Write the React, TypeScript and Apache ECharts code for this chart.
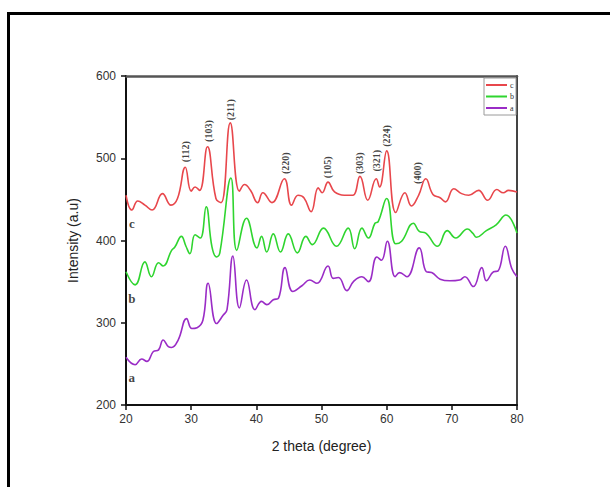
import React, { useEffect, useRef } from "react";
import * as echarts from "echarts";

// Curve c (red)
const cX = [20, 20.9, 21.8, 22.9, 24.0, 25.6, 26.9, 27.9, 29.1, 30.0, 30.6, 31.3, 32.5, 33.8, 34.6, 36.0, 37.4, 38.2, 39.1, 40.2, 41.0, 42.4, 44.3, 45.4, 46.4, 47.3, 48.4, 49.5, 50.1, 51.0, 52.0, 53.5, 54.8, 55.9, 57.1, 58.4, 58.9, 60.0, 61.4, 62.8, 63.8, 64.9, 66.0, 67.1, 68.2, 69.0, 70.3, 71.5, 72.6, 74.1, 75.5, 76.9, 77.9, 78.7, 80];
const cY = [455, 437, 448, 443, 437, 457, 443, 451, 489, 460, 465, 461, 514, 451, 446, 543, 460, 468, 461, 446, 458, 446, 475, 443, 455, 452, 435, 464, 458, 471, 459, 455, 455, 478, 449, 475, 465, 509, 434, 458, 442, 455, 475, 456, 452, 447, 463, 457, 455, 461, 449, 462, 458, 461, 459];

// Curve b (green)
const bX = [20, 21.4, 22.9, 23.9, 25.0, 25.7, 27.0, 27.5, 28.5, 29.2, 29.8, 30.6, 31.4, 32.3, 33.2, 33.9, 34.4, 36.1, 37.0, 38.5, 40.1, 40.8, 41.6, 42.6, 43.7, 44.9, 46.3, 47.6, 48.6, 50.3, 52.3, 54.1, 55.1, 56.2, 57.2, 58.2, 58.7, 60.0, 61.4, 62.3, 64.1, 65.0, 66.0, 67.8, 69.3, 70.6, 72.4, 73.2, 73.8, 75.3, 76.8, 78.3, 80];
const bY = [362, 346, 374, 356, 373, 369, 388, 392, 405, 393, 384, 407, 403, 441, 392, 380, 385, 476, 388, 427, 391, 405, 386, 408, 386, 408, 385, 405, 395, 415, 393, 415, 390, 415, 403, 421, 423, 451, 396, 399, 421, 411, 409, 393, 412, 403, 414, 409, 404, 412, 419, 431, 409];

// Curve a (purple)
const aX = [20, 21.4, 22.4, 23.2, 24.2, 25.0, 25.7, 26.5, 27.0, 28.0, 29.3, 30.1, 30.9, 31.8, 32.6, 33.9, 34.9, 35.5, 36.4, 37.4, 38.5, 39.8, 40.8, 41.6, 42.6, 43.4, 44.4, 45.6, 47.0, 48.2, 49.3, 51.0, 51.8, 52.6, 53.9, 54.9, 56.2, 57.2, 58.5, 59.2, 60.1, 61.3, 62.0, 63.1, 65.0, 66.1, 66.9, 68.2, 69.7, 71.2, 72.0, 73.3, 74.6, 75.3, 76.4, 77.1, 78.2, 79.2, 80];
const aY = [258, 249, 256, 253, 265, 267, 279, 271, 270, 279, 305, 293, 294, 303, 348, 299, 309, 316, 381, 318, 352, 316, 326, 322, 328, 330, 367, 338, 345, 352, 348, 369, 354, 355, 339, 350, 356, 350, 380, 376, 399, 356, 361, 356, 391, 362, 361, 353, 351, 352, 356, 344, 367, 351, 362, 363, 393, 366, 356];

// Peak annotations (hkl) placed at data coordinates
const peakNames = ["(112)", "(103)", "(211)", "(220)", "(105)", "(303)", "(321)", "(224)", "(400)"];
const peakX = [29.2, 32.6, 36.1, 44.4, 50.9, 55.9, 58.4, 60.0, 64.8];
const peakY = [508, 533, 559, 494, 489, 494, 497, 527, 482];

// Curve letters
const curveNames = ["c", "b", "a"];
const curveLabelX = [20.9, 20.9, 20.9];
const curveLabelY = [421, 330, 234];

const xTicks = { min: 20, max: 80, interval: 10 };
const yTicks = { min: 200, max: 600, interval: 100 };

const pair = (xs: number[], ys: number[]) => xs.map((x, i) => [x, ys[i]]);

export default function App() {
  const ref = useRef<HTMLDivElement>(null);
  useEffect(() => {
    if (!ref.current) return;
    const chart = echarts.init(ref.current, null, { renderer: "svg" });
    const lineBase = {
      type: "line",
      smooth: 0.45,
      symbol: "none",
      showSymbol: false,
      xAxisIndex: 0,
      yAxisIndex: 0,
    };
    chart.setOption({
      animation: false,
      backgroundColor: "#ffffff",
      grid: { left: 126, right: 93, top: 76, bottom: 82 },
      legend: {
        data: ["c", "b", "a"],
        orient: "vertical",
        right: 94,
        top: 78,
        icon: "rect",
        itemWidth: 21,
        itemHeight: 2,
        itemGap: 1.5,
        padding: [2, 2, 2, 2],
        borderColor: "#9a9a9a",
        borderWidth: 1,
        backgroundColor: "#ffffff",
        textStyle: { fontFamily: "Liberation Serif", fontSize: 8, color: "#333", lineHeight: 10, padding: [0, 0, 0, -2] },
      },
      xAxis: [
        {
          type: "value",
          min: xTicks.min,
          max: xTicks.max,
          interval: xTicks.interval,
          name: "2 theta (degree)",
          nameLocation: "middle",
          nameGap: 34,
          nameTextStyle: { fontFamily: "Liberation Sans", fontSize: 14, color: "#222" },
          axisLine: { show: true, onZero: false, lineStyle: { color: "#111", width: 2 } },
          axisTick: { show: true, length: 5, lineStyle: { color: "#111", width: 1.5 } },
          axisLabel: { fontFamily: "Liberation Sans", fontSize: 12, color: "#333", margin: 8 },
          splitLine: { show: false },
        },
        {
          type: "value",
          position: "top",
          min: xTicks.min,
          max: xTicks.max,
          axisLine: { show: true, onZero: false, lineStyle: { color: "#555", width: 2.5 } },
          axisTick: { show: false },
          axisLabel: { show: false },
          splitLine: { show: false },
        },
      ],
      yAxis: [
        {
          type: "value",
          min: yTicks.min,
          max: yTicks.max,
          interval: yTicks.interval,
          name: "Intensity (a.u)",
          nameLocation: "middle",
          nameGap: 46,
          nameTextStyle: { fontFamily: "Liberation Sans", fontSize: 14, color: "#222" },
          axisLine: { show: true, onZero: false, lineStyle: { color: "#111", width: 2 } },
          axisTick: { show: true, length: 5, lineStyle: { color: "#111", width: 1.5 } },
          axisLabel: { fontFamily: "Liberation Sans", fontSize: 12, color: "#333", margin: 10 },
          splitLine: { show: false },
        },
        {
          type: "value",
          position: "right",
          min: yTicks.min,
          max: yTicks.max,
          axisLine: { show: true, onZero: false, lineStyle: { color: "#444", width: 2 } },
          axisTick: { show: false },
          axisLabel: { show: false },
          splitLine: { show: false },
        },
      ],
      series: [
        { ...lineBase, name: "c", data: pair(cX, cY), lineStyle: { color: "#e8474c", width: 1.6 }, itemStyle: { color: "#e8474c" } },
        { ...lineBase, name: "b", data: pair(bX, bY), lineStyle: { color: "#2fd52f", width: 1.6 }, itemStyle: { color: "#2fd52f" } },
        { ...lineBase, name: "a", data: pair(aX, aY), lineStyle: { color: "#9a2cc6", width: 1.6 }, itemStyle: { color: "#9a2cc6" } },
        {
          type: "scatter",
          name: "peaks",
          symbol: "circle",
          symbolSize: 1,
          itemStyle: { color: "rgba(0,0,0,0)" },
          data: peakNames.map((n, i) => ({ name: n, value: [peakX[i], peakY[i]] })),
          label: {
            show: true,
            position: "inside",
            rotate: 90,
            formatter: "{b}",
            fontFamily: "Liberation Serif",
            fontWeight: "bold",
            fontSize: 10,
            color: "#111",
          },
          silent: true,
        },
        {
          type: "scatter",
          name: "letters",
          symbol: "circle",
          symbolSize: 1,
          itemStyle: { color: "rgba(0,0,0,0)" },
          data: curveNames.map((n, i) => ({ name: n, value: [curveLabelX[i], curveLabelY[i]] })),
          label: {
            show: true,
            position: "inside",
            formatter: "{b}",
            fontFamily: "Liberation Serif",
            fontWeight: "bold",
            fontSize: 13,
            color: "#111",
          },
          silent: true,
        },
      ],
    });
    return () => chart.dispose();
  }, []);
  return (
    <div style={{ position: "absolute", left: 0, top: 0, width: 610, height: 487, background: "#fff" }}>
      <div ref={ref} style={{ position: "absolute", left: 0, top: 0, width: 610, height: 487 }} />
      <div
        style={{
          position: "absolute",
          left: 7,
          top: 12,
          width: 620,
          height: 500,
          borderLeft: "3px solid #000",
          borderTop: "3px solid #000",
          pointerEvents: "none",
        }}
      />
    </div>
  );
}
